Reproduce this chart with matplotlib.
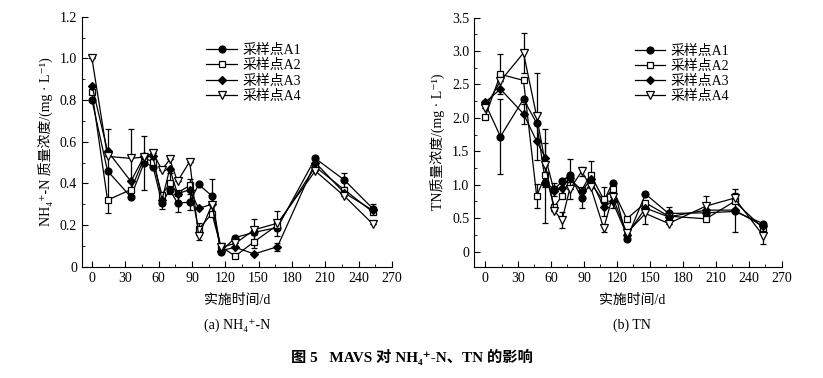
import matplotlib
matplotlib.use("Agg")
import matplotlib.pyplot as plt
from matplotlib.ticker import MultipleLocator

plt.rcParams['font.family'] = ['Liberation Serif', 'DejaVu Serif', 'Noto Sans CJK SC']

# sampling days
days = [0, 14, 35, 47, 55, 63, 70, 77, 88, 96, 108, 116, 129, 146, 167, 201, 227, 253]

# NH4+-N (mg/L)
nh4_a1 = [0.80, 0.46, 0.335, 0.50, 0.48, 0.305, 0.37, 0.305, 0.31, 0.395, 0.34, 0.072, 0.14, 0.165, 0.188, 0.52, 0.417, 0.278]
nh4_a2 = [0.84, 0.32, 0.37, 0.52, 0.505, 0.345, 0.40, 0.355, 0.39, 0.18, 0.255, 0.096, 0.051, 0.12, 0.20, 0.48, 0.37, 0.262]
nh4_a3 = [0.87, 0.555, 0.41, 0.53, 0.53, 0.32, 0.47, 0.35, 0.37, 0.28, 0.30, 0.077, 0.093, 0.061, 0.096, 0.50, 0.355, 0.27]
nh4_a4 = [1.00, 0.53, 0.52, 0.527, 0.545, 0.465, 0.515, 0.41, 0.505, 0.148, 0.297, 0.093, 0.112, 0.177, 0.209, 0.46, 0.34, 0.204]
nh4_e1 = [0, 0.2, 0, 0.13, 0, 0.03, 0, 0.04, 0.04, 0, 0.08, 0, 0, 0, 0, 0.01, 0.035, 0.025]
nh4_e2 = [0, 0, 0, 0, 0, 0, 0.05, 0, 0.03, 0.03, 0, 0, 0, 0.03, 0, 0, 0, 0]
nh4_e3 = [0, 0, 0, 0, 0, 0, 0, 0, 0, 0, 0, 0, 0, 0, 0.02, 0, 0, 0]
nh4_e4 = [0, 0, 0.14, 0, 0, 0, 0, 0, 0, 0.02, 0, 0.02, 0, 0.05, 0.06, 0, 0, 0]

# TN (mg/L)
tn_a1 = [2.22, 1.72, 2.28, 1.92, 1.03, 0.93, 1.05, 1.15, 0.80, 1.03, 0.75, 1.03, 0.19, 0.86, 0.57, 0.58, 0.60, 0.42]
tn_a2 = [2.01, 2.65, 2.56, 0.83, 1.15, 0.67, 0.83, 1.08, 0.92, 1.15, 0.78, 0.93, 0.49, 0.73, 0.53, 0.49, 0.75, 0.35]
tn_a3 = [2.23, 2.43, 2.06, 1.65, 1.40, 0.90, 0.95, 1.10, 0.90, 1.08, 0.67, 0.75, 0.25, 0.65, 0.52, 0.62, 0.62, 0.38]
tn_a4 = [2.15, 2.55, 2.97, 2.02, 1.30, 0.61, 0.47, 0.93, 1.20, 0.97, 0.35, 0.82, 0.28, 0.57, 0.42, 0.68, 0.80, 0.24]
tn_e1 = [0, 0.56, 0, 0, 0.6, 0.1, 0, 0, 0.15, 0, 0.22, 0, 0, 0, 0.1, 0, 0, 0]
tn_e2 = [0, 0.3, 0, 0.18, 0, 0, 0, 0.3, 0, 0.2, 0, 0, 0, 0, 0, 0, 0, 0]
tn_e3 = [0, 0, 0.15, 0, 0.43, 0, 0.12, 0, 0, 0, 0, 0.1, 0.08, 0, 0, 0, 0.32, 0]
tn_e4 = [0, 0, 0.3, 0.65, 0, 0, 0.12, 0, 0.07, 0, 0.05, 0, 0, 0.15, 0, 0.15, 0.08, 0.12]

labels = ['采样点A1', '采样点A2', '采样点A3', '采样点A4']
markers = [('o', 'k', 5), ('s', 'white', 5), ('D', 'k', 4), ('v', 'white', 6)]

fig = plt.figure(figsize=(8.23, 3.78), dpi=100)
ax1 = fig.add_axes([0.0996, 0.2945, 0.3766, 0.661])
ax2 = fig.add_axes([0.576, 0.2937, 0.3739, 0.660])


def draw(ax, series, errs, anchor):
    handles = []
    for y, e, (m, fc, ms) in zip(series, errs, markers):
        c = ax.errorbar(days, y, yerr=e, color='k', lw=0.9, marker=m, ms=ms,
                        mfc=fc, mec='k', mew=0.9, capsize=2.5, elinewidth=0.9,
                        capthick=0.9)
        handles.append(c[0])
    for s in ['top', 'right']:
        ax.spines[s].set_visible(False)
    ax.set_xticks(range(0, 271, 30))
    ax.xaxis.set_minor_locator(MultipleLocator(15))
    ax.tick_params(which='both', direction='in', labelsize=10)
    ax.tick_params(which='major', length=4)
    ax.tick_params(which='minor', length=2.5)
    ax.legend(handles, labels, loc='upper left', bbox_to_anchor=anchor,
              frameon=False, fontsize=10, handlelength=2.2,
              labelspacing=0.15, handletextpad=0.4, borderpad=0.2)


draw(ax1, [nh4_a1, nh4_a2, nh4_a3, nh4_a4], [nh4_e1, nh4_e2, nh4_e3, nh4_e4], (0.37, 0.93))
ax1.set_xlim(-9, 270)
ax1.set_ylim(0, 1.2)
ax1.set_yticks([0, 0.2, 0.4, 0.6, 0.8, 1.0, 1.2])
ax1.set_yticklabels(['0', '0.2', '0.4', '0.6', '0.8', '1.0', '1.2'])
ax1.yaxis.set_minor_locator(MultipleLocator(0.1))
ax1.set_ylabel('NH₄⁺-N 质量浓度/(mg · L⁻¹)', fontsize=10, labelpad=4)

draw(ax2, [tn_a1, tn_a2, tn_a3, tn_a4], [tn_e1, tn_e2, tn_e3, tn_e4], (0.49, 0.93))
ax2.set_xlim(-10, 270)
ax2.set_ylim(-0.23, 3.5)
ax2.set_yticks([0, 0.5, 1.0, 1.5, 2.0, 2.5, 3.0, 3.5])
ax2.set_yticklabels(['0', '0.5', '1.0', '1.5', '2.0', '2.5', '3.0', '3.5'])
ax2.yaxis.set_minor_locator(MultipleLocator(0.25))
ax2.set_ylabel('TN质量浓度/(mg · L⁻¹)', fontsize=10, labelpad=4)

fig.text(0.288, 1 - 300 / 378, '实施时间/d', ha='center', va='center', fontsize=10)
fig.text(0.768, 1 - 300 / 378, '实施时间/d', ha='center', va='center', fontsize=10)
fig.text(0.288, 1 - 325 / 378, '(a) NH₄⁺-N', ha='center', va='center', fontsize=10)
fig.text(0.768, 1 - 325 / 378, '(b) TN', ha='center', va='center', fontsize=10)
fig.text(0.5, 1 - 357 / 378, '图 5   MAVS 对 NH₄⁺-N、TN 的影响',
         ha='center', va='center', fontsize=11, weight='bold')

fig.savefig('out.png', dpi=100)
